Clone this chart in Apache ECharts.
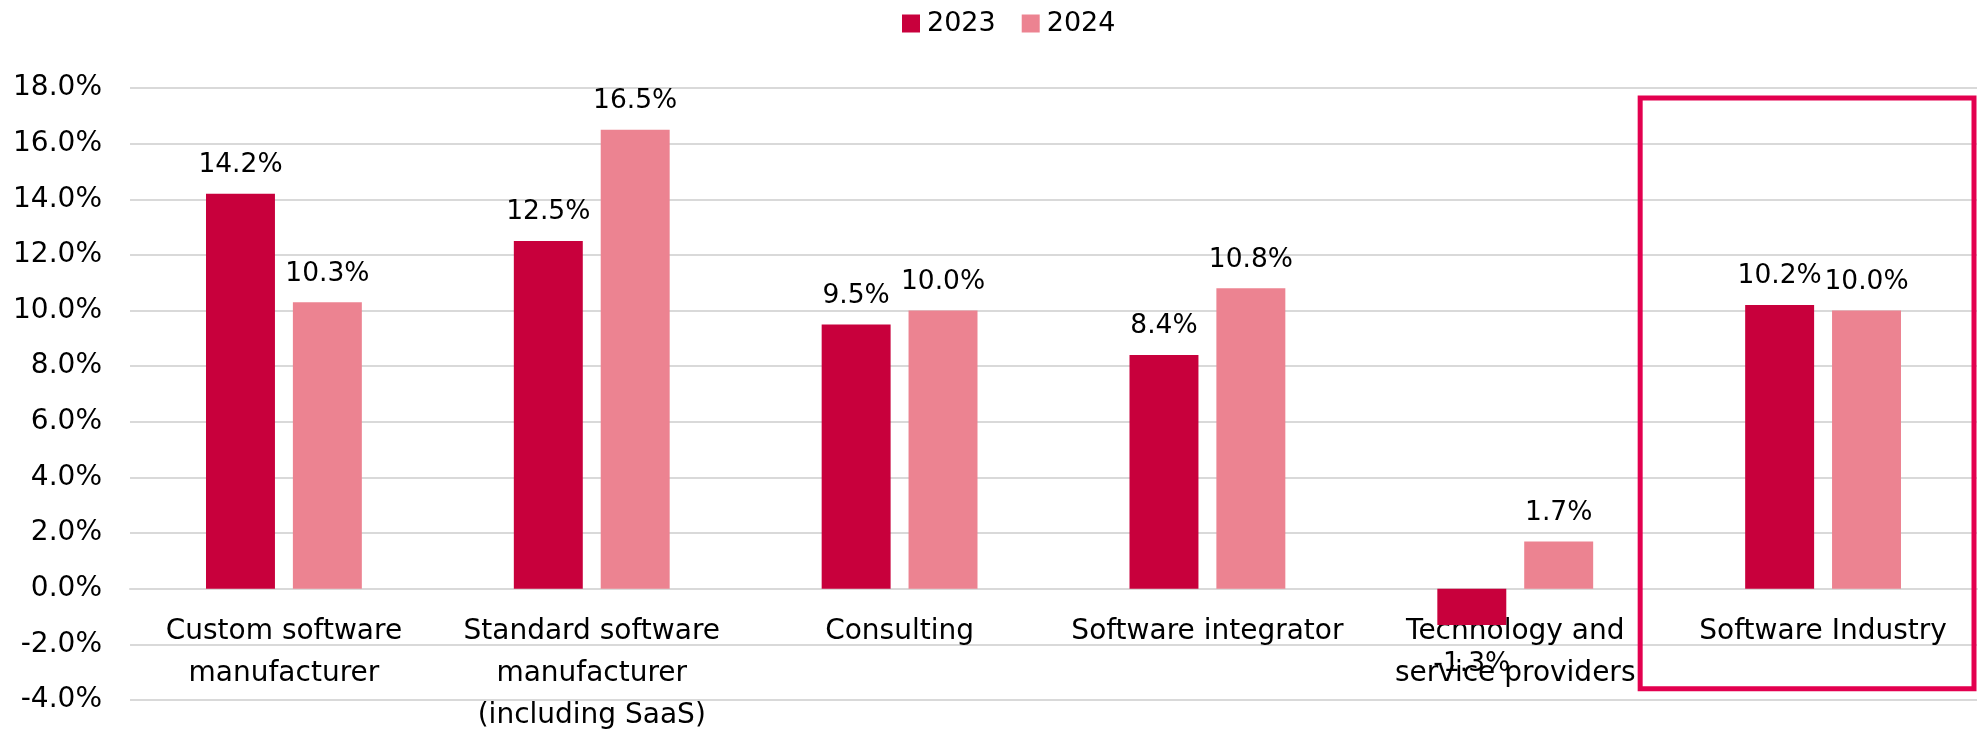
<!DOCTYPE html>
<html>
<head>
<meta charset="utf-8">
<script src="https://cdn.jsdelivr.net/npm/echarts@6/dist/echarts.min.js"></script>
<style>
  html, body { margin: 0; padding: 0; background: #fff; }
  #chart { width: 1981px; height: 734px; }
</style>
</head>
<body>
<div id="chart"></div>
<script>
const categories = [
  'Custom software\nmanufacturer',
  'Standard software\nmanufacturer\n(including SaaS)',
  'Consulting',
  'Software integrator',
  'Technology and\nservice providers',
  'Software Industry'
]
const seriesNames = ['2023', '2024']
const values2023 = [14.2, 12.5, 9.5, 8.4, -1.3, 10.2]
const values2024 = [10.3, 16.5, 10.0, 10.8, 1.7, 10.0]
const highlighted = 'Software Industry'

const font = '"DejaVu Sans", sans-serif'
const dark = '#C8003C'
const light = '#EC8391'
const yMin = -4
const yMax = 18

const gridTop = 88
const gridBottom = 34
const gridHeight = 734 - gridTop - gridBottom
// lift the category axis up to the zero line
const zeroOffset = -gridHeight * (0 - yMin) / (yMax - yMin)

const chart = echarts.init(document.getElementById('chart'))

const labelStyle = {
  show: true,
  position: 'top',
  distance: 15,
  fontFamily: font,
  fontSize: 26.5,
  color: '#000',
  formatter: p => p.value.toFixed(1) + '%'
}

chart.setOption({
  animation: false,
  legend: {
    data: seriesNames,
    top: 5,
    left: 897,
    itemWidth: 18,
    itemHeight: 18,
    itemGap: 26,
    icon: 'rect',
    textStyle: { fontFamily: font, fontSize: 27, color: '#000', padding: [0, 0, 0, 2] }
  },
  grid: { left: 130, right: 4, top: gridTop, bottom: gridBottom, containLabel: false, outerBoundsMode: 'none' },
  xAxis: {
    type: 'category',
    data: categories,
    offset: zeroOffset,
    axisLine: { show: true, onZero: false, lineStyle: { color: '#D9D9D9', width: 2 } },
    axisTick: { show: false },
    axisLabel: {
      interval: 0,
      margin: 22,
      fontFamily: font,
      fontSize: 28,
      lineHeight: 42,
      color: '#000'
    }
  },
  yAxis: {
    type: 'value',
    min: yMin,
    max: yMax,
    interval: 2,
    axisLine: { show: false },
    axisTick: { show: false },
    splitLine: { lineStyle: { color: '#D9D9D9', width: 2 } },
    axisLabel: {
      margin: 28,
      fontFamily: font,
      fontSize: 28,
      color: '#000',
      formatter: v => v.toFixed(1) + '%'
    }
  },
  series: [
    {
      name: seriesNames[0],
      type: 'bar',
      // negative values get their label below the bar
      data: values2023.map(v => v < 0
        ? { value: v, label: { position: 'bottom', distance: 26 } }
        : v),
      barWidth: '22.4%',
      barGap: '26%',
      itemStyle: { color: dark },
      label: labelStyle
    },
    {
      name: seriesNames[1],
      type: 'bar',
      data: values2024,
      barWidth: '22.4%',
      itemStyle: { color: light },
      label: labelStyle
    }
  ]
})

// red frame around the highlighted category, placed from the axis scales
const idx = categories.indexOf(highlighted)
const cx = chart.convertToPixel({ xAxisIndex: 0 }, idx)
const prevX = chart.convertToPixel({ xAxisIndex: 0 }, idx - 1)
const band = cx - prevX
const frameTop = chart.convertToPixel({ yAxisIndex: 0 }, 18) + 10
const frameBottom = chart.convertToPixel({ yAxisIndex: 0 }, -3.6)
const frameLeft = cx - band / 2 - 29
const frameRight = cx + band / 2 - 3
chart.setOption({
  graphic: [{
    type: 'rect',
    shape: {
      x: frameLeft,
      y: frameTop,
      width: frameRight - frameLeft,
      height: frameBottom - frameTop
    },
    style: { fill: 'none', stroke: '#E3004F', lineWidth: 5 },
    z: 10
  }]
})
</script>
</body>
</html>
